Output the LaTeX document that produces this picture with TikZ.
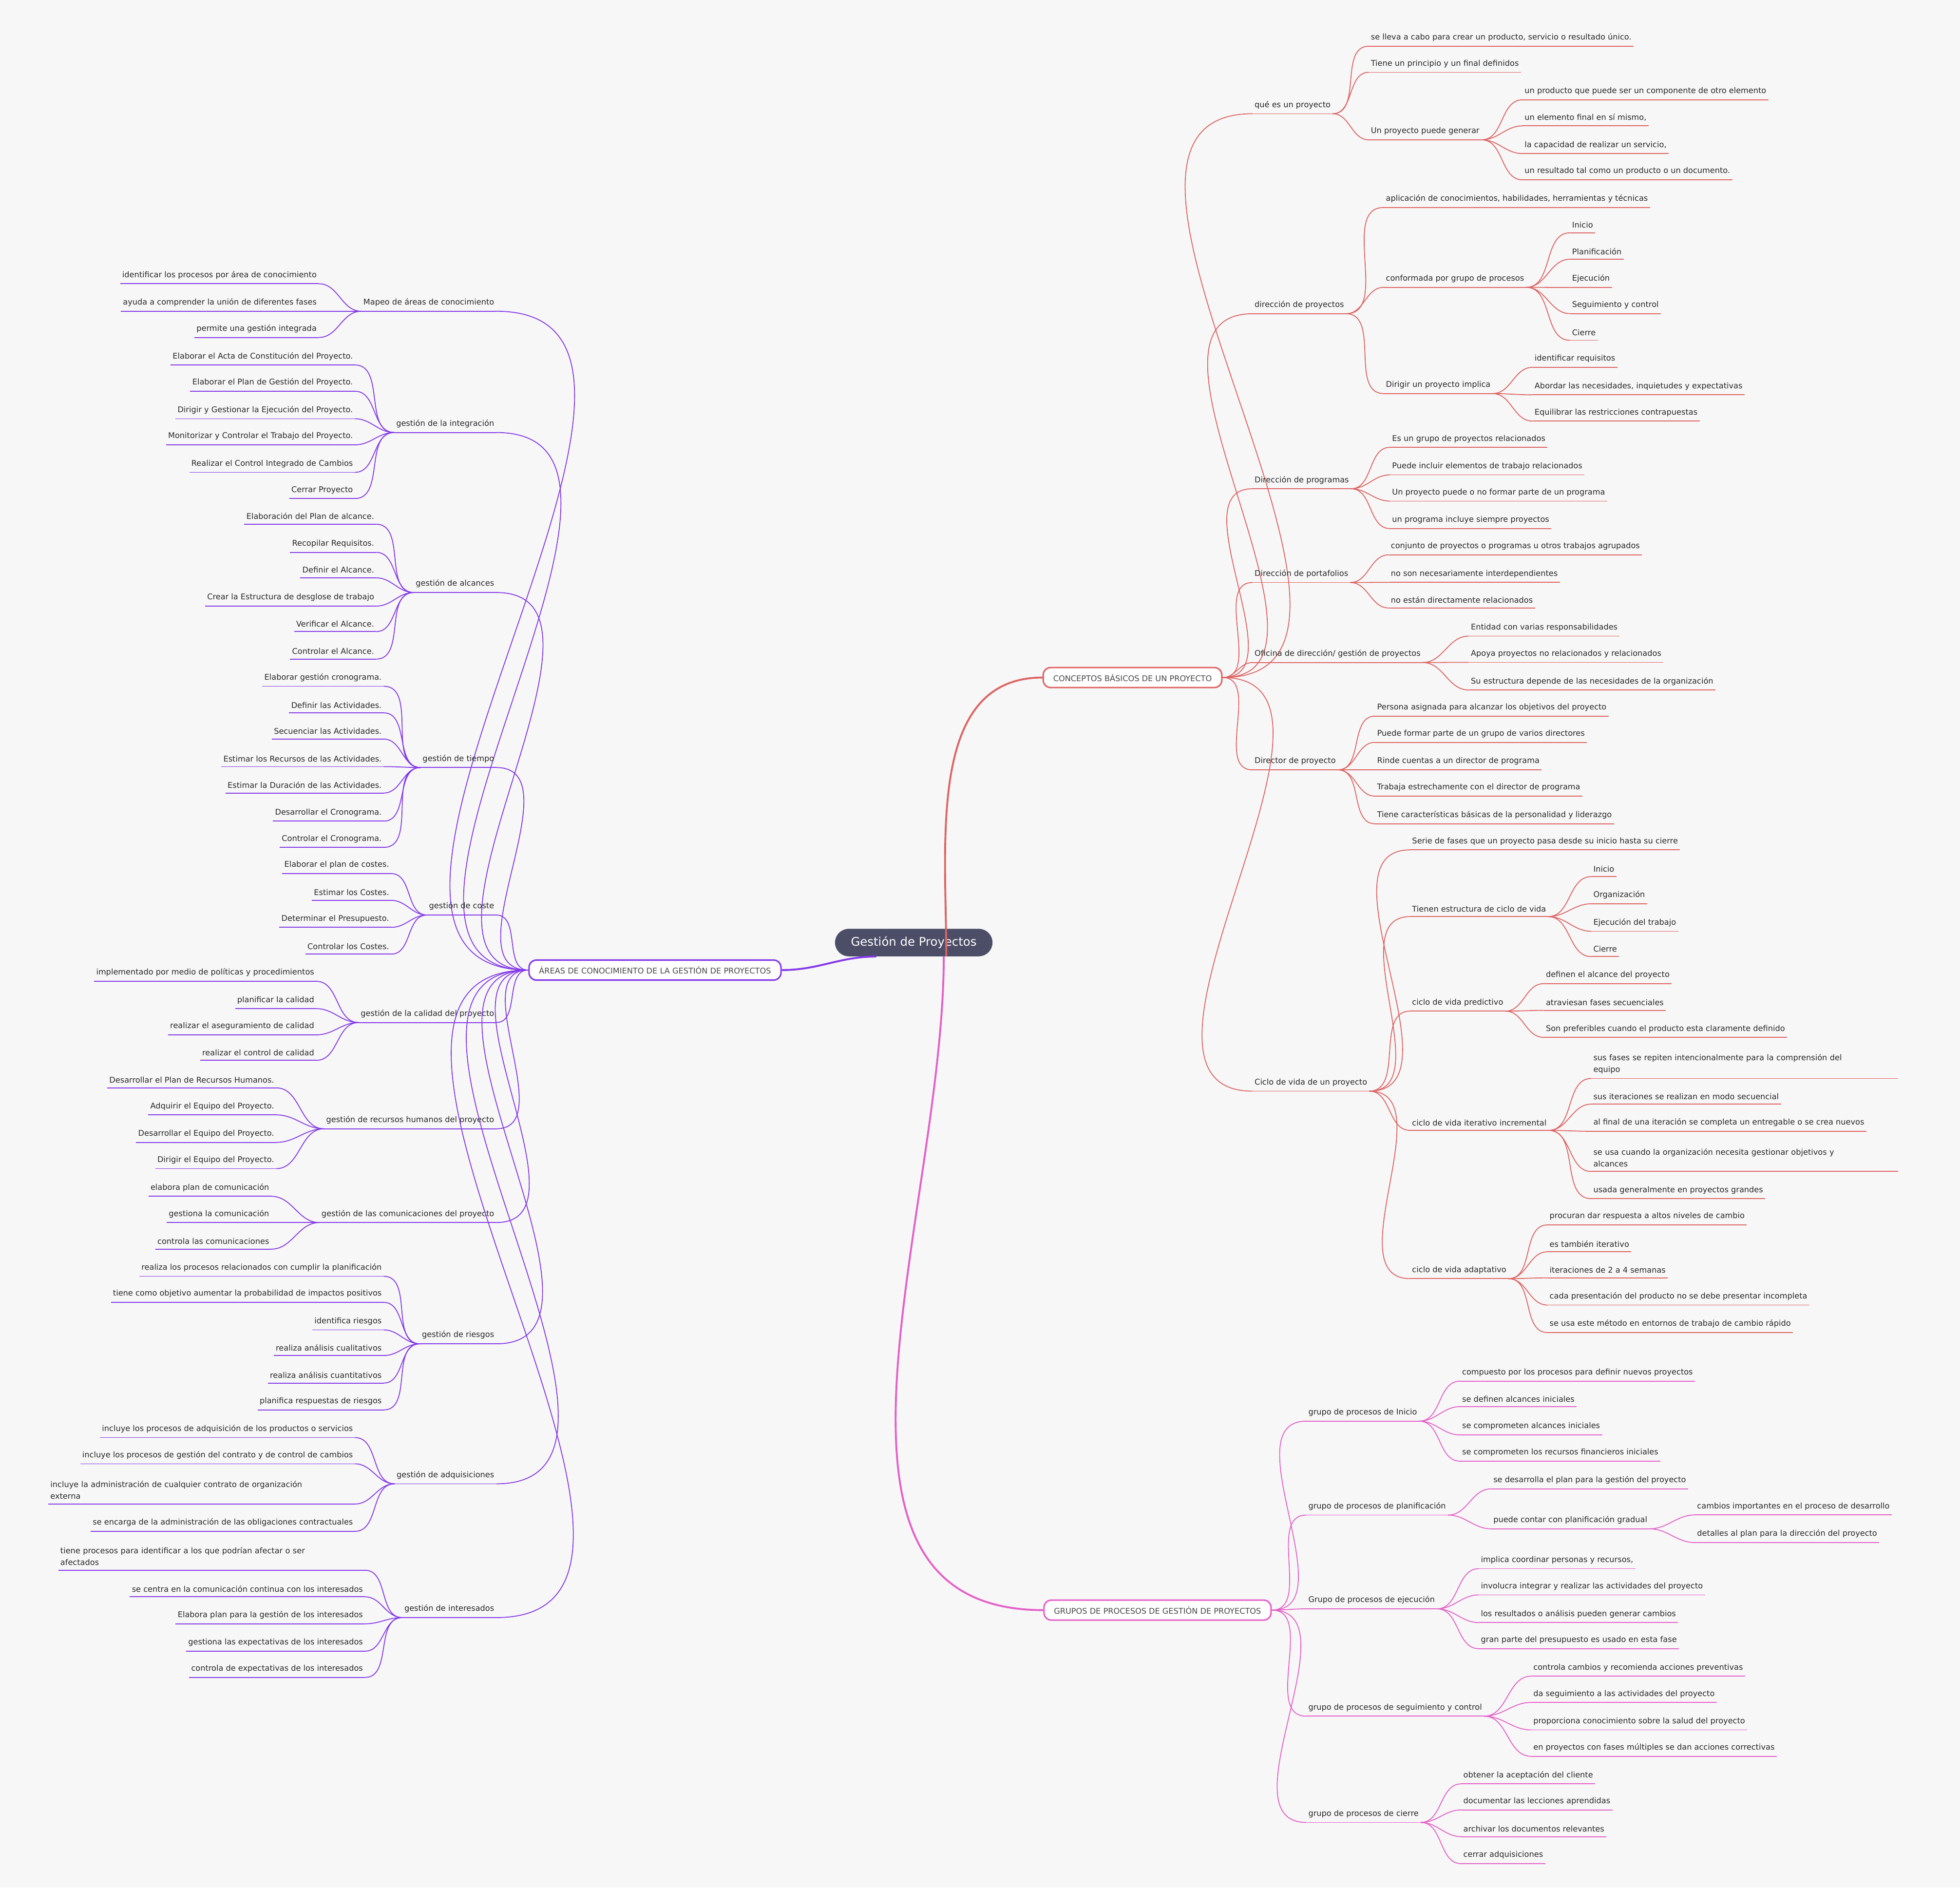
\documentclass[tikz,border=0pt]{standalone}
\usepackage{fontspec}
\setmainfont{DejaVu Sans}
\definecolor{bgc}{RGB}{247,247,247}
\definecolor{cred}{RGB}{222,100,100}
\definecolor{cpur}{RGB}{132,58,232}
\definecolor{cpink}{RGB}{228,96,200}
\definecolor{rootc}{RGB}{76,78,104}
\definecolor{txt}{RGB}{40,40,40}
\newcounter{nc}
\def\bc{cred}
\tikzset{
 xs/.style={},
 lf/.style={inner xsep=1.5pt,inner ysep=3.6pt,align=left,text=txt,font=\fontsize{6.3}{9.5}\selectfont},
 ed/.style={draw=\bc,line width=0.7pt},
 box/.style={draw=#1,line width=1.2pt,rounded corners=6pt,fill=white,inner xsep=8pt,minimum height=16pt,text=txt!85,font=\fontsize{6.3}{8}\selectfont}
}
\newcommand\wideon{\tikzset{xs/.style={text width=242pt}}}
\newcommand\wideoff{\tikzset{xs/.style={}}}
\newcommand\RNd[6][south east]{%
 \node[lf,anchor=west,xs] (#2) at (#4,#5) {#6};
 \draw[ed] (#3.#1) to[out=0,in=180] (#2.south west);
 \draw[ed] (#2.south west)--(#2.south east);}
\newcommand\LNd[6][south west]{%
 \node[lf,anchor=east,xs] (#2) at (#4,#5) {#6};
 \draw[ed] (#3.#1) to[out=180,in=0] (#2.south east);
 \draw[ed] (#2.south west)--(#2.south east);}
\newcommand\RL[4]{\stepcounter{nc}\RNd{n\thenc}{#1}{#2}{#3}{#4}}
\newcommand\LL[4]{\stepcounter{nc}\LNd{n\thenc}{#1}{#2}{#3}{#4}}
\begin{document}
\begin{tikzpicture}[x=1pt,y=-1pt]
\useasboundingbox[fill=bgc] (0,0) rectangle (1568,1510);
\node[fill=rootc,rounded corners=11pt,minimum width=126pt,minimum height=22pt,text=white,font=\fontsize{9.5}{11}\selectfont] (root) at (731,754) {Gestión de Proyectos};
\node[box=cred] (cb) at (906,542) {CONCEPTOS BÁSICOS DE UN PROYECTO};
\node[box=cpink] (gb) at (926,1288) {GRUPOS DE PROCESOS DE GESTIÓN DE PROYECTOS};
\node[box=cpur] (ab) at (524,776) {ÁREAS DE CONOCIMIENTO DE LA GESTIÓN DE PROYECTOS};
\draw[cred,line width=1.5pt] ([xshift=26pt]root.south) to[out=90,in=180] (cb.west);
\draw[cpink,line width=1.5pt] ([xshift=24pt]root.south) to[out=-90,in=180] (gb.west);
\draw[cpur,line width=1.5pt] ([xshift=-30pt]root.south) to[out=180,in=0] (ab.east);
% ---------------- red
\def\bc{cred}
\RNd[east]{q}{cb}{1002}{84}{qué es un proyecto}
\RL{q}{1095}{30}{se lleva a cabo para crear un producto, servicio o resultado único.}
\RL{q}{1095}{51}{Tiene un principio y un final definidos}
\RNd{q3}{q}{1095}{105}{Un proyecto puede generar}
\RL{q3}{1218}{73}{un producto que puede ser un componente de otro elemento}
\RL{q3}{1218}{94}{un elemento final en sí mismo,}
\RL{q3}{1218}{116}{la capacidad de realizar un servicio,}
\RL{q3}{1218}{137}{un resultado tal como un producto o un documento.}
\RNd[east]{d}{cb}{1002}{244}{dirección de proyectos}
\RL{d}{1107}{159}{aplicación de conocimientos, habilidades, herramientas y técnicas}
\RNd{d2}{d}{1107}{223}{conformada por grupo de procesos}
\RL{d2}{1256}{180}{Inicio}
\RL{d2}{1256}{201}{Planificación}
\RL{d2}{1256}{223}{Ejecución}
\RL{d2}{1256}{244}{Seguimiento y control}
\RL{d2}{1256}{266}{Cierre}
\RNd{d3}{d}{1107}{308}{Dirigir un proyecto implica}
\RL{d3}{1226}{287}{identificar requisitos}
\RL{d3}{1226}{309}{Abordar las necesidades, inquietudes y expectativas}
\RL{d3}{1226}{330}{Equilibrar las restricciones contrapuestas}
\RNd[east]{pg}{cb}{1002}{384}{Dirección de programas}
\RL{pg}{1112}{351}{Es un grupo de proyectos relacionados}
\RL{pg}{1112}{373}{Puede incluir elementos de trabajo relacionados}
\RL{pg}{1112}{394}{Un proyecto puede o no formar parte de un programa}
\RL{pg}{1112}{416}{un programa incluye siempre proyectos}
\RNd[east]{pf}{cb}{1002}{459}{Dirección de portafolios}
\RL{pf}{1111}{437}{conjunto de proyectos o programas u otros trabajos agrupados}
\RL{pf}{1111}{459}{no son necesariamente interdependientes}
\RL{pf}{1111}{480}{no están directamente relacionados}
\RNd[east]{of}{cb}{1002}{523}{Oficina de dirección/ gestión de proyectos}
\RL{of}{1175}{502}{Entidad con varias responsabilidades}
\RL{of}{1175}{523}{Apoya proyectos no relacionados y relacionados}
\RL{of}{1175}{545}{Su estructura depende de las necesidades de la organización}
\RNd[east]{dr}{cb}{1002}{609}{Director de proyecto}
\RL{dr}{1100}{566}{Persona asignada para alcanzar los objetivos del proyecto}
\RL{dr}{1100}{587}{Puede formar parte de un grupo de varios directores}
\RL{dr}{1100}{609}{Rinde cuentas a un director de programa}
\RL{dr}{1100}{630}{Trabaja estrechamente con el director de programa}
\RL{dr}{1100}{652}{Tiene características básicas de la personalidad y liderazgo}
\RNd[east]{cv}{cb}{1002}{866}{Ciclo de vida de un proyecto}
\RL{cv}{1128}{673}{Serie de fases que un proyecto pasa desde su inicio hasta su cierre}
\RNd{cv2}{cv}{1128}{727}{Tienen estructura de ciclo de vida}
\RL{cv2}{1273}{695}{Inicio}
\RL{cv2}{1273}{716}{Organización}
\RL{cv2}{1273}{738}{Ejecución del trabajo}
\RL{cv2}{1273}{759}{Cierre}
\RNd{cv3}{cv}{1128}{802}{ciclo de vida predictivo}
\RL{cv3}{1235}{780}{definen el alcance del proyecto}
\RL{cv3}{1235}{802}{atraviesan fases secuenciales}
\RL{cv3}{1235}{823}{Son preferibles cuando el producto esta claramente definido}
\RNd{cv4}{cv}{1128}{898}{ciclo de vida iterativo incremental}
\wideon
\RL{cv4}{1273}{851}{sus fases se repiten intencionalmente para la comprensión del\\equipo}
\wideoff
\RL{cv4}{1273}{877}{sus iteraciones se realizan en modo secuencial}
\RL{cv4}{1273}{898}{al final de una iteración se completa un entregable o se crea nuevos}
\wideon
\RL{cv4}{1273}{926}{se usa cuando la organización necesita gestionar objetivos y\\alcances}
\wideoff
\RL{cv4}{1273}{952}{usada generalmente en proyectos grandes}
\RNd{cv5}{cv}{1128}{1016}{ciclo de vida adaptativo}
\RL{cv5}{1238}{973}{procuran dar respuesta a altos niveles de cambio}
\RL{cv5}{1238}{995}{es también iterativo}
\RL{cv5}{1238}{1016}{iteraciones de 2 a 4 semanas}
\RL{cv5}{1238}{1037}{cada presentación del producto no se debe presentar incompleta}
\RL{cv5}{1238}{1059}{se usa este método en entornos de trabajo de cambio rápido}
% ---------------- pink
\def\bc{cpink}
\RNd[east]{g1}{gb}{1045}{1130}{grupo de procesos de Inicio}
\RL{g1}{1168}{1098}{compuesto por los procesos para definir nuevos proyectos}
\RL{g1}{1168}{1119}{se definen alcances iniciales}
\RL{g1}{1168}{1141}{se comprometen alcances iniciales}
\RL{g1}{1168}{1162}{se comprometen los recursos financieros iniciales}
\RNd[east]{g2}{gb}{1045}{1205}{grupo de procesos de planificación}
\RL{g2}{1193}{1184}{se desarrolla el plan para la gestión del proyecto}
\RNd{g22}{g2}{1193}{1216}{puede contar con planificación gradual}
\RL{g22}{1356}{1205}{cambios importantes en el proceso de desarrollo}
\RL{g22}{1356}{1227}{detalles al plan para la dirección del proyecto}
\RNd[east]{g3}{gb}{1045}{1280}{Grupo de procesos de ejecución}
\RL{g3}{1183}{1248}{implica coordinar personas y recursos,}
\RL{g3}{1183}{1269}{involucra integrar y realizar las actividades del proyecto}
\RL{g3}{1183}{1291}{los resultados o análisis pueden generar cambios}
\RL{g3}{1183}{1312}{gran parte del presupuesto es usado en esta fase}
\RNd[east]{g4}{gb}{1045}{1366}{grupo de procesos de seguimiento y control}
\RL{g4}{1225}{1334}{controla cambios y recomienda acciones preventivas}
\RL{g4}{1225}{1355}{da seguimiento a las actividades del proyecto}
\RL{g4}{1225}{1377}{proporciona conocimiento sobre la salud del proyecto}
\RL{g4}{1225}{1398}{en proyectos con fases múltiples se dan acciones correctivas}
\RNd[east]{g5}{gb}{1045}{1451}{grupo de procesos de cierre}
\RL{g5}{1169}{1420}{obtener la aceptación del cliente}
\RL{g5}{1169}{1441}{documentar las lecciones aprendidas}
\RL{g5}{1169}{1463}{archivar los documentos relevantes}
\RL{g5}{1169}{1484}{cerrar adquisiciones}
% ---------------- purple
\def\bc{cpur}
\LNd[west]{m}{ab}{397}{242}{Mapeo de áreas de conocimiento}
\LL{m}{255}{220}{identificar los procesos por área de conocimiento}
\LL{m}{255}{242}{ayuda a comprender la unión de diferentes fases}
\LL{m}{255}{263}{permite una gestión integrada}
\LNd[west]{i}{ab}{397}{339}{gestión de la integración}
\LL{i}{284}{285}{Elaborar el Acta de Constitución del Proyecto.}
\LL{i}{284}{306}{Elaborar el Plan de Gestión del Proyecto.}
\LL{i}{284}{328}{Dirigir y Gestionar la Ejecución del Proyecto.}
\LL{i}{284}{349}{Monitorizar y Controlar el Trabajo del Proyecto.}
\LL{i}{284}{371}{Realizar el Control Integrado de Cambios}
\LL{i}{284}{392}{Cerrar Proyecto}
\LNd[west]{a}{ab}{397}{467}{gestión de alcances}
\LL{a}{301}{413}{Elaboración del Plan de alcance.}
\LL{a}{301}{435}{Recopilar Requisitos.}
\LL{a}{301}{456}{Definir el Alcance.}
\LL{a}{301}{478}{Crear la Estructura de desglose de trabajo}
\LL{a}{301}{499}{Verificar el Alcance.}
\LL{a}{301}{521}{Controlar el Alcance.}
\LNd[west]{t}{ab}{397}{607}{gestión de tiempo}
\LL{t}{307}{542}{Elaborar gestión cronograma.}
\LL{t}{307}{564}{Definir las Actividades.}
\LL{t}{307}{585}{Secuenciar las Actividades.}
\LL{t}{307}{607}{Estimar los Recursos de las Actividades.}
\LL{t}{307}{628}{Estimar la Duración de las Actividades.}
\LL{t}{307}{650}{Desarrollar el Cronograma.}
\LL{t}{307}{671}{Controlar el Cronograma.}
\LNd[west]{c}{ab}{397}{725}{gestión de coste}
\LL{c}{313}{692}{Elaborar el plan de costes.}
\LL{c}{313}{714}{Estimar los Costes.}
\LL{c}{313}{735}{Determinar el Presupuesto.}
\LL{c}{313}{757}{Controlar los Costes.}
\LNd[west]{ql}{ab}{397}{811}{gestión de la calidad del proyecto}
\LL{ql}{253}{778}{implementado por medio de políticas y procedimientos}
\LL{ql}{253}{800}{planificar la calidad}
\LL{ql}{253}{821}{realizar el aseguramiento de calidad}
\LL{ql}{253}{842}{realizar el control de calidad}
\LNd[west]{r}{ab}{397}{896}{gestión de recursos humanos del proyecto}
\LL{r}{221}{864}{Desarrollar el Plan de Recursos Humanos.}
\LL{r}{221}{885}{Adquirir el Equipo del Proyecto.}
\LL{r}{221}{907}{Desarrollar el Equipo del Proyecto.}
\LL{r}{221}{928}{Dirigir el Equipo del Proyecto.}
\LNd[west]{co}{ab}{397}{971}{gestión de las comunicaciones del proyecto}
\LL{co}{217}{950}{elabora plan de comunicación}
\LL{co}{217}{971}{gestiona la comunicación}
\LL{co}{217}{993}{controla las comunicaciones}
\LNd[west]{ri}{ab}{397}{1068}{gestión de riesgos}
\LL{ri}{307}{1014}{realiza los procesos relacionados con cumplir la planificación}
\LL{ri}{307}{1035}{tiene como objetivo aumentar la probabilidad de impactos positivos}
\LL{ri}{307}{1057}{identifica riesgos}
\LL{ri}{307}{1078}{realiza análisis cualitativos}
\LL{ri}{307}{1100}{realiza análisis cuantitativos}
\LL{ri}{307}{1121}{planifica respuestas de riesgos}
\LNd[west]{ad}{ab}{397}{1180}{gestión de adquisiciones}
\LL{ad}{284}{1143}{incluye los procesos de adquisición de los productos o servicios}
\LL{ad}{284}{1164}{incluye los procesos de gestión del contrato y de control de cambios}
\wideon
\LL{ad}{284}{1192}{incluye la administración de cualquier contrato de organización\\externa}
\wideoff
\LL{ad}{284}{1218}{se encarga de la administración de las obligaciones contractuales}
\LNd[west]{in}{ab}{397}{1287}{gestión de interesados}
\wideon
\LL{in}{292}{1245}{tiene procesos para identificar a los que podrían afectar o ser\\afectados}
\wideoff
\LL{in}{292}{1271}{se centra en la comunicación continua con los interesados}
\LL{in}{292}{1292}{Elabora plan para la gestión de los interesados}
\LL{in}{292}{1314}{gestiona las expectativas de los interesados}
\LL{in}{292}{1335}{controla de expectativas de los interesados}
\end{tikzpicture}
\end{document}
